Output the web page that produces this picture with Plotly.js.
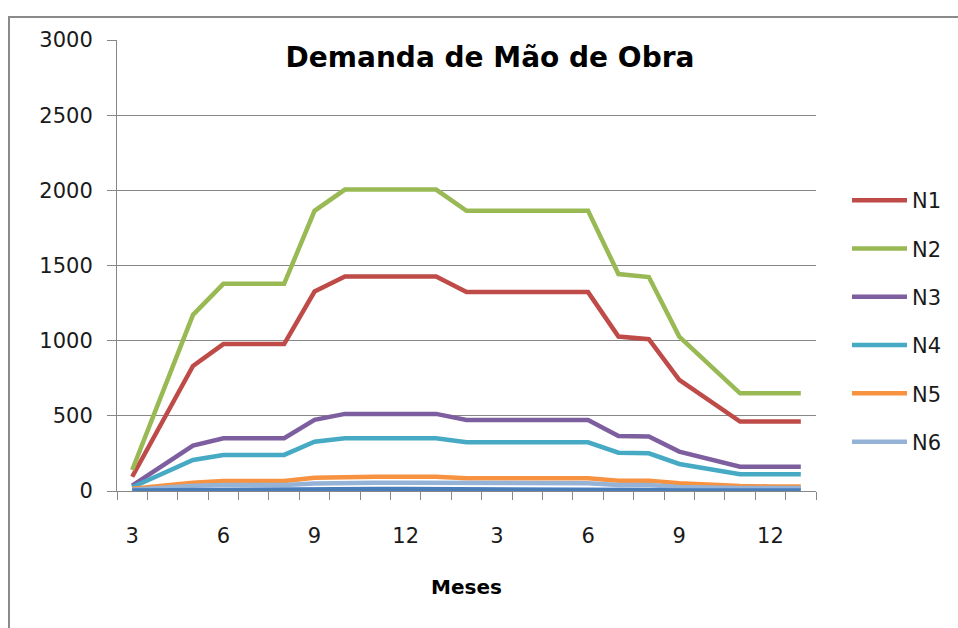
<!DOCTYPE html>
<html>
<head>
<meta charset="utf-8">
<script src="https://cdn.plot.ly/plotly-3.0.1.min.js"></script>
<style>
  html, body { margin: 0; padding: 0; background: #ffffff; }
  #wrap { position: relative; width: 958px; height: 628px; overflow: hidden; }
  #chart { width: 958px; height: 628px; }
  #frame { position: absolute; left: 8px; top: 16px; width: 1000px; height: 700px;
           border-top: 2px solid #8a8a8a; border-left: 2px solid #8a8a8a; pointer-events: none; }
</style>
</head>
<body>
<div id="wrap">
  <div id="chart"></div>
  <div id="frame"></div>
</div>
<script>
// Month labels for each of the 23 categories
const months = [3,4,5,6,7,8,9,10,11,12,1,2,3,4,5,6,7,8,9,10,11,12,1];

// Series values
const S0 = [3, 5, 8, 10, 10, 10, 12, 13, 13, 13, 13, 8, 8, 8, 8, 8, 6, 6, 4, 3, 3, 3, 3];
const N1 = [95, 464, 832, 977, 977, 977, 1327, 1427, 1427, 1427, 1427, 1323, 1323, 1323, 1323, 1323, 1027, 1010, 739, 604, 462, 462, 462];
const N2 = [140, 657, 1172, 1378, 1378, 1378, 1864, 2005, 2005, 2005, 2005, 1864, 1864, 1864, 1864, 1864, 1443, 1423, 1027, 841, 650, 650, 650];
const N3 = [35, 166, 302, 351, 351, 351, 473, 513, 513, 513, 513, 473, 473, 473, 473, 473, 366, 362, 262, 211, 162, 162, 162];
const N4 = [25, 115, 206, 240, 240, 240, 328, 351, 351, 351, 351, 324, 324, 324, 324, 324, 255, 251, 180, 144, 111, 111, 111];
const N5 = [15, 35, 55, 67, 67, 67, 88, 95, 95, 95, 95, 84, 84, 84, 84, 84, 69, 69, 51, 40, 33, 30, 30];
const N6 = [8, 22, 35, 40, 40, 40, 50, 55, 55, 55, 55, 51, 51, 51, 51, 51, 40, 40, 27, 22, 20, 20, 20];

const idx = months.map((_, i) => i);
const labelEvery = 3;
const tickIdx = idx.filter(i => i % labelEvery === 0);
const tickText = tickIdx.map(i => String(months[i]));
const boundaries = Array.from({length: months.length + 1}, (_, i) => i - 0.5);

const FONT = "DejaVu Sans, Liberation Sans, sans-serif";
const GRID = "#878787";

function line(name, y, color, extra) {
  return Object.assign({
    type: "scatter", mode: "lines", name: name, x: idx, y: y,
    line: { color: color, width: 4.5 }, legendgroup: name, hoverinfo: "x+y"
  }, extra || {});
}

const data = [
  line("Série 1", S0, "#4A7EBB", { showlegend: false, xaxis: "x2" }),
  line("N1", N1, "#BE4B48"),
  line("N2", N2, "#98B954"),
  line("N3", N3, "#7D5FA0"),
  line("N4", N4, "#46AAC5"),
  line("N5", N5, "#F69240"),
  line("N6", N6, "#95B3D7")
];

const layout = {
  width: 958, height: 628,
  margin: { l: 117, r: 142, t: 40, b: 137, pad: 0, autoexpand: false },
  paper_bgcolor: "rgba(0,0,0,0)",
  plot_bgcolor: "rgba(0,0,0,0)",
  font: { family: FONT, color: "#1a1a1a", size: 21 },
  showlegend: true,
  title: {
    text: "<b>Demanda de Mão de Obra</b>",
    font: { family: FONT, size: 28, color: "#000000" },
    x: 490 / 958, xanchor: "center", xref: "container",
    y: 1 - 57 / 628, yanchor: "middle", yref: "container"
  },
  xaxis: {
    range: [-0.5, months.length - 0.5],
    tickmode: "array", tickvals: tickIdx, ticktext: tickText,
    ticks: "", showgrid: false, zeroline: false,
    showline: true, linecolor: GRID, linewidth: 1,
    ticklabelstandoff: 26,
    tickfont: { family: FONT, size: 21, color: "#1a1a1a" },
    title: { text: "<b>Meses</b>", font: { family: FONT, size: 20, color: "#000000" }, standoff: 32 },
    fixedrange: true
  },
  xaxis2: {
    overlaying: "x", anchor: "y", side: "bottom",
    range: [-0.5, months.length - 0.5],
    tickmode: "array", tickvals: boundaries,
    ticks: "outside", ticklen: 8, tickcolor: GRID, tickwidth: 1,
    showticklabels: false, showgrid: false, zeroline: false, showline: false,
    fixedrange: true
  },
  yaxis: {
    range: [0, 3000], tickmode: "linear", tick0: 0, dtick: 500,
    showgrid: true, gridcolor: GRID, gridwidth: 1,
    zeroline: false, showline: true, linecolor: GRID, linewidth: 1,
    ticks: "outside", ticklen: 9, tickcolor: GRID, tickwidth: 1,
    ticklabelstandoff: 10,
    tickfont: { family: FONT, size: 21, color: "#1a1a1a" },
    fixedrange: true
  },
  legend: {
    x: (847 - 117) / 699, xanchor: "left",
    y: (491 - 180) / 451, yanchor: "top",
    font: { family: FONT, size: 21, color: "#1a1a1a" },
    traceorder: "grouped", tracegroupgap: 18,
    itemwidth: 55, bgcolor: "rgba(0,0,0,0)", borderwidth: 0
  }
};

Plotly.newPlot("chart", data, layout, { displayModeBar: false, staticPlot: true });
</script>
</body>
</html>
